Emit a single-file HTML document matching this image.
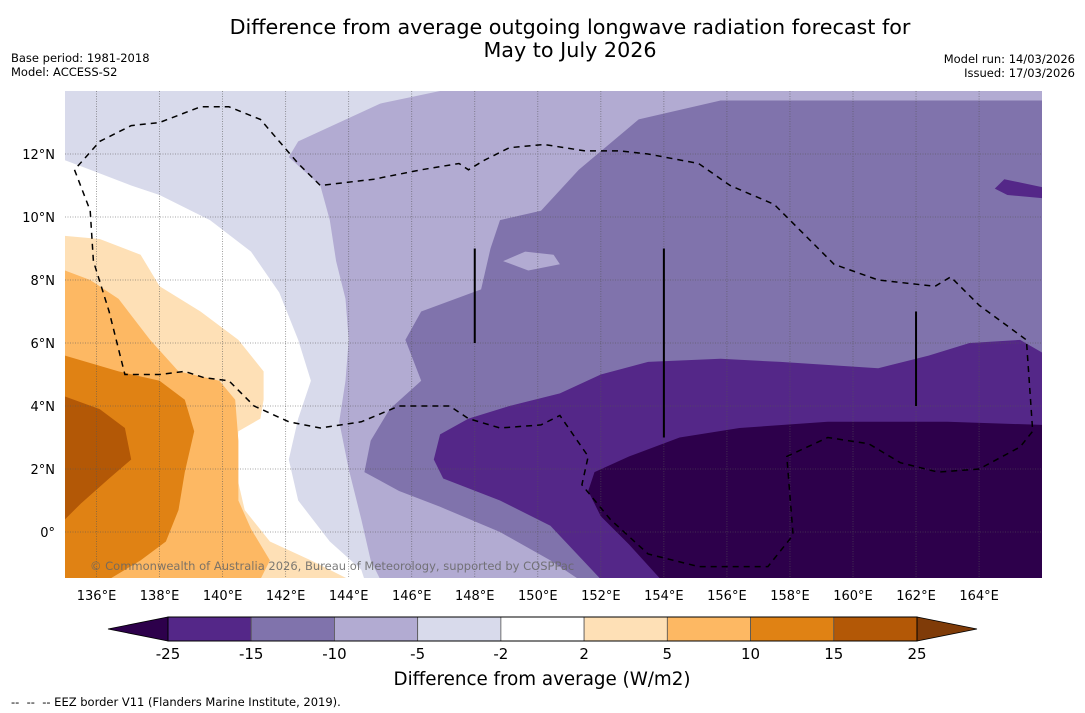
<!DOCTYPE html>
<html><head><meta charset="utf-8"><style>
html,body{margin:0;padding:0;background:#fff}
svg{display:block;font-family:"DejaVu Sans","Liberation Sans",sans-serif}
</style></head><body>
<svg id="chart" width="1085" height="713" viewBox="0 0 1085 713" xmlns="http://www.w3.org/2000/svg">
<defs><clipPath id="plotclip"><rect x="65" y="91" width="977" height="487"/></clipPath></defs>
<text x="570" y="34" text-anchor="middle" font-size="20.7">Difference from average outgoing longwave radiation forecast for</text>
<text x="570" y="57" text-anchor="middle" font-size="20.7">May to July 2026</text>
<text x="11" y="62" font-size="11.5">Base period: 1981-2018</text>
<text x="11" y="76" font-size="11.5">Model: ACCESS-S2</text>
<text x="1075" y="63" text-anchor="end" font-size="11.5">Model run: 14/03/2026</text>
<text x="1075" y="77" text-anchor="end" font-size="11.5">Issued: 17/03/2026</text>
<g id="map" clip-path="url(#plotclip)"></g>
<g id="grid"></g>
<g id="overlay" clip-path="url(#plotclip)"></g>
<text x="90" y="570" font-size="11.5" fill="#666" fill-opacity="0.85">© Commonwealth of Australia 2026, Bureau of Meteorology, supported by COSPPac</text>
<g id="xticks"></g>
<g id="yticks"></g>
<g id="cbar"></g>
<text x="542" y="685" text-anchor="middle" font-size="18.3">Difference from average (W/m2)</text>
<text x="11" y="706" font-size="11.5" xml:space="preserve">--  --  -- EEZ border V11 (Flanders Marine Institute, 2019).</text>
</svg>
<script>
// ---- data (lon/lat) ----
const lonTicks=[136,138,140,142,144,146,148,150,152,154,156,158,160,162,164];
const latTicks=[0,2,4,6,8,10,12];
const latLabels=["0°","2°N","4°N","6°N","8°N","10°N","12°N"];
const cbarLevels=[-25,-15,-10,-5,-2,2,5,10,15,25];
const cbarColors=["#542788","#8073ac","#b2abd2","#d8daeb","#ffffff","#fee0b6","#fdb863","#e08214","#b35806"];
const lowColor="#2d004b", highColor="#7f3b08";
const baseColor="#b2abd2";
const lightPoly=[[135,14],[146.9,14],[145,13.6],[142.4,12.4],[142.1,11.9],[143.1,11],[143.4,9.9],[143.6,8.6],[143.9,7.4],[144,6.1],[143.9,4.8],[143.7,3.5],[144,2],[144.4,0.4],[144.7,-0.9],[145,-1.5],[135,-1.5]];
const whitePoly=[[135,11.8],[135.8,11.5],[137.1,11],[138,10.7],[139.6,9.9],[140.9,8.9],[141.8,7.6],[142.4,6.1],[142.8,4.8],[142.4,3.6],[142.1,2.3],[142.4,1],[143.4,-0.3],[144.4,-1.2],[144.5,-1.5],[135,-1.5]];
const pale5Poly=[[135,9.4],[136.1,9.3],[137.4,8.8],[138,7.8],[139.3,7],[140.5,6.1],[141.3,5.1],[141.3,4.2],[141.2,3.6],[140.5,3.2],[140.4,2],[140.7,0.7],[141.5,-0.3],[142.8,-0.9],[144,-1.5],[135,-1.5]];
const orange10Poly=[[135,8.3],[135.8,8],[136.7,7.4],[137.7,6.1],[138.6,5.1],[139.9,4.8],[140.4,4.2],[140.5,2.9],[140.5,1],[140.9,0.1],[141.5,-0.9],[141.2,-1.5],[135,-1.5]];
const orange15Poly=[[135,5.6],[136.7,5.1],[138,4.8],[138.8,4.2],[139.1,3.2],[138.8,1.9],[138.6,0.7],[138.2,-0.3],[137.4,-0.9],[136.4,-1.5],[135,-1.5]];
const brown25Poly=[[135,4.3],[136.1,3.9],[136.9,3.3],[137.1,2.3],[136.4,1.7],[135.5,0.9],[135,0.4]];
const purple10Poly=[[166,13.7],[155.8,13.7],[153.2,13.1],[151.3,11.5],[150.1,10.2],[148.8,9.9],[148.5,9],[148.2,7.7],[146.3,7],[145.8,6.1],[146.3,4.8],[145.3,3.9],[144.7,2.9],[144.5,1.9],[145.6,1.3],[146.9,0.8],[148.8,0],[150.4,-0.9],[151.3,-1.5],[166,-1.5]];
const purple10Hole=[[148.9,8.6],[149.6,8.9],[150.5,8.8],[150.7,8.5],[149.7,8.3]];
const purple15Poly=[[166,5.7],[165.3,6.1],[163.7,6],[162.4,5.6],[160.8,5.2],[157.7,5.4],[155.8,5.5],[153.5,5.4],[152,5],[150.7,4.4],[149.1,4],[147.8,3.6],[146.9,3.1],[146.7,2.3],[147,1.7],[148.8,1],[150.4,0.2],[152,-1.5],[166,-1.5]];
const purple15Blob=[[164.5,10.9],[164.8,11.2],[166,10.95],[166,10.6],[164.9,10.7]];
const purple25Poly=[[166,3.4],[163,3.5],[159.2,3.5],[156.4,3.3],[154.5,3],[152.9,2.4],[151.8,1.9],[151.6,1.3],[152,0.5],[152.9,-0.4],[153.9,-1.5],[166,-1.5]];
const eezLine=[[135.3,11.5],[135.8,10.2],[135.9,8.6],[136.4,7],[136.9,5],[138,5],[138.8,5.1],[139.4,4.9],[140.2,4.8],[141,4],[142.1,3.5],[143.1,3.3],[144.4,3.5],[145.6,4],[147.2,4],[147.8,3.6],[148.8,3.3],[150.1,3.4],[150.7,3.7],[151.6,2.4],[151.4,1.5],[152.3,0.4],[153.5,-0.7],[155.1,-1.1],[157.3,-1.1],[158.1,-0.1],[157.9,2.4],[159.2,3],[160.5,2.8],[161.5,2.2],[162.7,1.9],[164,2],[165.3,2.7],[165.7,3.2],[165.5,6.1],[164,7.2],[163.1,8.1],[162.6,7.8],[160.8,8],[159.4,8.5],[158.3,9.6],[157.5,10.4],[156.1,11],[155.1,11.7],[153.5,12],[152.6,12.1],[151.5,12.1],[150.2,12.3],[149.1,12.2],[148.3,11.8],[147.8,11.5],[147.5,11.7],[146.3,11.5],[144.8,11.2],[143.1,11],[142.4,11.7],[141.2,13.1],[140.2,13.5],[139.3,13.5],[138,13],[137.1,12.9],[136.1,12.4],[135.3,11.5]];
const boundarySegLon=[148,154,162];
const boundarySegLat0=[9,9,7];
const boundarySegLat1=[6,3,4];

// ---- axes ----
const X=lon=>65+(lon-135)*31.52;
const Y=lat=>91+(14-lat)*31.5;
const NS="http://www.w3.org/2000/svg";
function mk(parent,tag,attrs){const e=document.createElementNS(NS,tag);for(const k in attrs)e.setAttribute(k,attrs[k]);parent.appendChild(e);return e;}
const pts=p=>p.map(q=>X(q[0]).toFixed(1)+","+Y(q[1]).toFixed(1)).join(" ");
const map=document.getElementById('map');
let r=mk(map,'rect',{x:65,y:91,width:977,height:487,fill:baseColor});


const layers=[[lightPoly,"#d8daeb","band-minus5"],[whitePoly,"#ffffff","band-neutral"],[pale5Poly,"#fee0b6","band-plus2"],[orange10Poly,"#fdb863","band-plus5"],[orange15Poly,"#e08214","band-plus10"],[brown25Poly,"#b35806","band-plus15"],[purple10Poly,"#8073ac","band-minus10"],[purple10Hole,"#b2abd2","band-minus5-patch"],[purple15Poly,"#542788","band-minus15"],[purple15Blob,"#542788","band-minus15-patch"],[purple25Poly,"#2d004b","band-minus25"]];
layers.forEach(l=>{const p=mk(map,'polygon',{points:pts(l[0]),fill:l[1]});

});
const grid=document.getElementById('grid');
lonTicks.forEach(lon=>{const g=mk(grid,'line',{x1:X(lon),x2:X(lon),y1:91,y2:578,stroke:"#555","stroke-width":0.8,"stroke-dasharray":"1,1.5","stroke-opacity":0.7});


const t=mk(document.getElementById('xticks'),'text',{x:X(lon),y:600,"text-anchor":"middle","font-size":13});t.textContent=lon+"°E";

});
latTicks.forEach((lat,i)=>{const g=mk(grid,'line',{x1:65,x2:1042,y1:Y(lat),y2:Y(lat),stroke:"#555","stroke-width":0.8,"stroke-dasharray":"1,1.5","stroke-opacity":0.7});


const t=mk(document.getElementById('yticks'),'text',{x:55,y:Y(lat)+5,"text-anchor":"end","font-size":13});t.textContent=latLabels[i];

});
const ov=document.getElementById('overlay');
const e=mk(ov,'polyline',{points:pts(eezLine),fill:"none",stroke:"#000","stroke-width":1.5,"stroke-dasharray":"6,5"});


boundarySegLon.forEach((lon,i)=>{const s=mk(ov,'line',{x1:X(lon),x2:X(lon),y1:Y(boundarySegLat0[i]),y2:Y(boundarySegLat1[i]),stroke:"#000","stroke-width":2});

});
// ---- colorbar ----
const cb=document.getElementById('cbar');
const cx0=168,cw=(917-168)/cbarColors.length,cy=617,ch=24;
const lt=mk(cb,'polygon',{points:`108,${cy+ch/2} ${cx0},${cy} ${cx0},${cy+ch}`,fill:lowColor,stroke:"#000","stroke-width":0.8});


const rt=mk(cb,'polygon',{points:`977,${cy+ch/2} 917,${cy} 917,${cy+ch}`,fill:highColor,stroke:"#000","stroke-width":0.8});


cbarColors.forEach((c,i)=>{const b=mk(cb,'rect',{x:cx0+i*cw,y:cy,width:cw,height:ch,fill:c,stroke:"#555","stroke-width":0.8});

});
mk(cb,'rect',{x:cx0,y:cy,width:917-cx0,height:ch,fill:"none",stroke:"#000","stroke-width":1});
cbarLevels.forEach((v,i)=>{const t=mk(cb,'text',{x:cx0+i*cw,y:659,"text-anchor":"middle","font-size":15});t.textContent=v;

});
</script>
</body></html>
